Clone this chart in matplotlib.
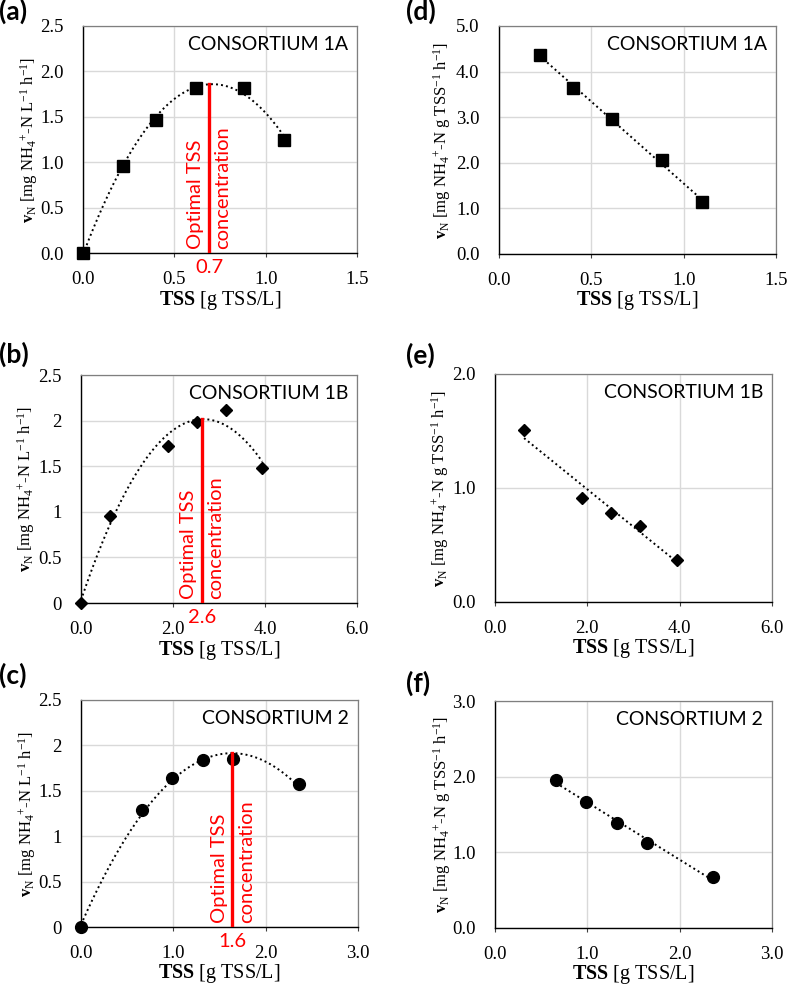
import numpy as np
import matplotlib.pyplot as plt
from matplotlib.ticker import FormatStrFormatter, FuncFormatter

plt.rcParams['font.family'] = 'Liberation Serif'
plt.rcParams['mathtext.fontset'] = 'custom'
plt.rcParams['mathtext.rm'] = 'Liberation Serif'
plt.rcParams['mathtext.it'] = 'Liberation Serif:italic'
plt.rcParams['mathtext.bf'] = 'Liberation Serif:bold'

# ---- data ----
tss_1a = [0.0, 0.22, 0.40, 0.62, 0.88, 1.10]
vn_1a = [0.0, 0.96, 1.47, 1.82, 1.82, 1.25]
tss_1a_s = [0.22, 0.40, 0.61, 0.88, 1.10]
vs_1a = [4.36, 3.65, 2.96, 2.06, 1.13]

tss_1b = [0.0, 0.63, 1.89, 2.52, 3.15, 3.94]
vn_1b = [0.0, 0.95, 1.72, 1.98, 2.12, 1.48]
tss_1b_s = [0.63, 1.89, 2.52, 3.15, 3.94]
vs_1b = [1.51, 0.91, 0.78, 0.67, 0.37]

tss_2 = [0.0, 0.66, 0.99, 1.32, 1.65, 2.36]
vn_2 = [0.0, 1.29, 1.645, 1.835, 1.85, 1.57]
tss_2_s = [0.66, 0.99, 1.32, 1.65, 2.36]
vs_2 = [1.96, 1.66, 1.39, 1.12, 0.67]

opt_tss = [0.69, 2.63, 1.64]
opt_label = ["0.7", "2.6", "1.6"]
names = ["CONSORTIUM 1A", "CONSORTIUM 1B", "CONSORTIUM 2"]
markers = ["s", "D", "o"]
msizes = [8.5, 6.5, 8.5]

W, H = 787, 989
fig = plt.figure(figsize=(W / 100, H / 100), dpi=100)

def add_ax(l, r, t, b):
    ax = fig.add_axes([l / W, 1 - b / H, (r - l) / W, (b - t) / H])
    ax.px = (l, r, t, b)
    return ax

ylab_l = r"$\mathbf{v}_\mathrm{N}$ [mg NH$_4$$^{+}$-N L$^{\mathrm{-1}}$ h$^{\mathrm{-1}}$]"
ylab_s = r"$\mathbf{v}_\mathrm{N}$ [mg NH$_4$$^{+}$-N g TSS$^{\mathrm{-1}}$ h$^{\mathrm{-1}}$]"
xlab = r"$\mathbf{TSS}$ [g TSS/L]"

def style(ax, xmax, xstep, ymax, ystep, yfmt, ylab, ylab_x):
    l, r, t, b = ax.px
    ax.set_xlim(0, xmax)
    ax.set_ylim(0, ymax)
    ax.set_xticks(np.arange(0, xmax + 1e-9, xstep))
    ax.set_yticks(np.arange(0, ymax + 1e-9, ystep))
    ax.xaxis.set_major_formatter(FormatStrFormatter('%.1f'))
    if yfmt == 'g':
        ax.yaxis.set_major_formatter(FuncFormatter(lambda v, p: f"{v:g}"))
    else:
        ax.yaxis.set_major_formatter(FormatStrFormatter('%.1f'))
    ax.grid(True, color='#d9d9d9', lw=1.0)
    ax.set_axisbelow(True)
    ax.tick_params(axis='x', direction='out', length=3, width=0.8, color='#404040',
                   labelsize=13.5, pad=10)
    ax.tick_params(axis='y', length=0, labelsize=13.5, pad=14)
    for s in ['top', 'right']:
        ax.spines[s].set_color('#7f7f7f')
        ax.spines[s].set_linewidth(0.9)
    for s in ['left', 'bottom']:
        ax.spines[s].set_color('black')
        ax.spines[s].set_linewidth(1.0)
    ax.set_xlabel(xlab, fontsize=14.5)
    ax.xaxis.set_label_coords(0.5, -47 / (b - t))
    ax.xaxis.label.set_va('center')
    ax.set_ylabel(ylab, fontsize=12)
    ax.yaxis.set_label_coords((ylab_x - l) / (r - l), 0.5)
    ax.yaxis.label.set_va('center')

def panel_label(x, y, s):
    fig.text(x / W, 1 - y / H, s, fontsize=19, fontweight='bold', family='Lato',
             ha='left', va='center')

def name_text(ax, s):
    ax.text(0.968, 0.955, s, transform=ax.transAxes, ha='right', va='top',
            fontsize=14, family='Lato')

left_axes = [add_ax(83, 357, 26, 253), add_ax(81, 357, 375, 603), add_ax(81, 358, 700, 927)]
right_axes = [add_ax(499, 776, 26, 254), add_ax(495, 772, 374, 602), add_ax(495, 772, 701, 928)]
left_ylab_x = [29, 26, 27]
right_ylab_x = [442, 440, 442]

xs_left = [(1.5, 0.5), (6.0, 2.0), (3.0, 1.0)]
ys_left = [(2.5, 0.5, 'f'), (2.5, 0.5, 'g'), (2.5, 0.5, 'g')]
ys_right = [(5.0, 1.0), (2.0, 1.0), (3.0, 1.0)]

left_data = [(tss_1a, vn_1a), (tss_1b, vn_1b), (tss_2, vn_2)]
right_data = [(tss_1a_s, vs_1a), (tss_1b_s, vs_1b), (tss_2_s, vs_2)]

for i in range(3):
    ax = left_axes[i]
    x, y = np.array(left_data[i][0]), np.array(left_data[i][1])
    xmax, xstep = xs_left[i]
    ymax, ystep, yfmt = ys_left[i]
    style(ax, xmax, xstep, ymax, ystep, yfmt, ylab_l, left_ylab_x[i])
    c = np.polyfit(x, y, 2)
    xf = np.linspace(x.min(), x.max(), 200)
    ax.plot(xf, np.polyval(c, xf), ls=(0, (1, 1.6)), color='black', lw=1.4, zorder=2)
    ax.plot(x, y, ls='none', marker=markers[i], ms=msizes[i], color='black', zorder=3,
            clip_on=False)
    xo = opt_tss[i]
    ax.plot([xo, xo], [0, np.polyval(c, xo)], color='#ff0000', lw=2.4, zorder=4)
    ax.annotate("Optimal TSS", (xo, 0), xytext=(-9.5, 3), textcoords='offset points',
                rotation=90, ha='center', va='bottom', color='#ff0000', fontsize=14.5,
                family='Lato')
    ax.annotate("concentration", (xo, 0), xytext=(10, 3), textcoords='offset points',
                rotation=90, ha='center', va='bottom', color='#ff0000', fontsize=14.5,
                family='Lato')
    ax.annotate(opt_label[i], (xo, 0), xytext=(0, -4), textcoords='offset points',
                ha='center', va='top', color='#ff0000', fontsize=14.5, family='Lato',
                annotation_clip=False, zorder=5,
                bbox=dict(facecolor='white', edgecolor='none', pad=0.5))
    name_text(ax, names[i])

for i in range(3):
    ax = right_axes[i]
    x, y = np.array(right_data[i][0]), np.array(right_data[i][1])
    xmax, xstep = xs_left[i]
    ymax, ystep = ys_right[i]
    style(ax, xmax, xstep, ymax, ystep, 'f', ylab_s, right_ylab_x[i])
    c = np.polyfit(x, y, 1)
    xf = np.linspace(x.min(), x.max(), 100)
    ax.plot(xf, np.polyval(c, xf), ls=(0, (1, 1.6)), color='black', lw=1.4, zorder=2)
    ax.plot(x, y, ls='none', marker=markers[i], ms=msizes[i], color='black', zorder=3)
    name_text(ax, names[i])

panel_label(-1, 11, "(a)")
panel_label(406, 11, "(d)")
panel_label(-1, 354, "(b)")
panel_label(406, 355, "(e)")
panel_label(-1, 675, "(c)")
panel_label(406, 683, "(f)")

fig.savefig("out.png", dpi=100)
